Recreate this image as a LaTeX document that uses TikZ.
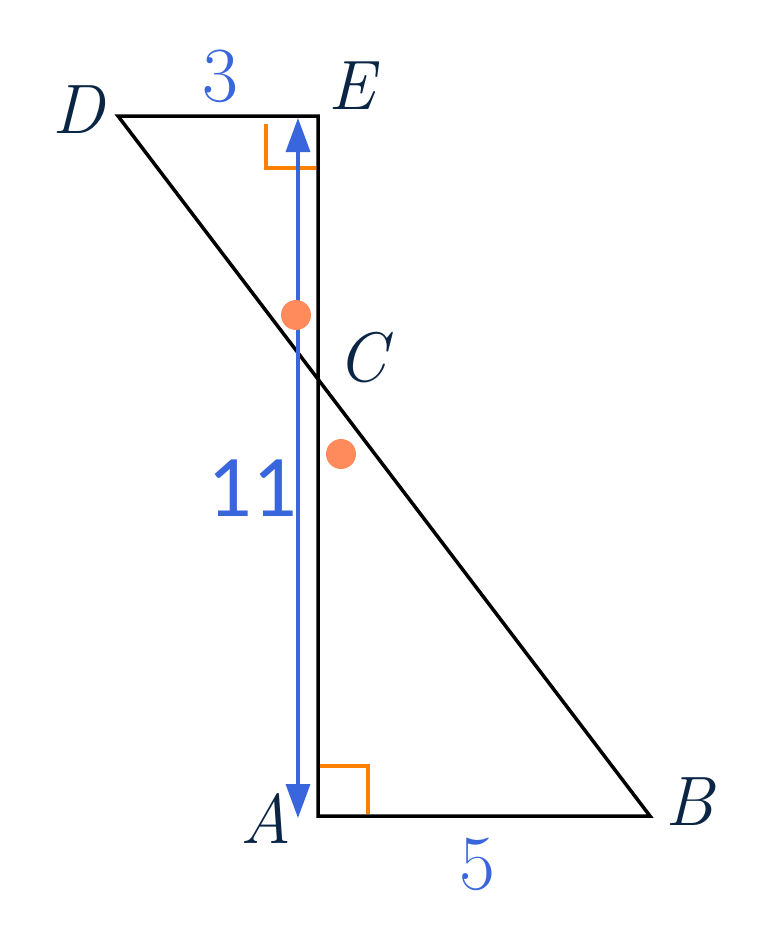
\documentclass[tikz,border=0pt]{standalone}
\usepackage{fontspec}
\newfontfamily\numfont{Carlito}
\usepackage{tikz}
\usetikzlibrary{arrows.meta,positioning}
\definecolor{navy}{HTML}{0B2545}
\definecolor{lenblue}{HTML}{3A66DD}
\definecolor{rightorange}{HTML}{FF7F00}
\definecolor{dotorange}{HTML}{FF8A5B}
\tikzset{font=\fontsize{78}{80}\selectfont}
\tikzset{vertex/.style={text=navy, inner sep=0pt, font=\fontsize{70}{72}\selectfont\itshape}}
\tikzset{lenlabel/.style={text=lenblue, inner sep=0pt}}
\tikzset{rightmark/.style={rightorange, line width=3.5pt}}

\begin{document}
\begin{tikzpicture}[x=1pt,y=-1pt]
  \useasboundingbox (0,0) rectangle (770,930);
  \coordinate (D) at (118,116);
  \coordinate (E) at (318,116);
  \coordinate (A) at (318,816);
  \coordinate (B) at (650,816);
  \coordinate (C) at (318,379);
  \coordinate (top) at (298,118);
  \coordinate (bot) at (298,818);

  % right angles
  \draw[rightmark] (266,124) -- (266,168) -- (316,168);
  \draw[rightmark] (320,766) -- (368,766) -- (368,814);

  % triangles
  \draw[line width=3.5pt, line join=miter] (D) -- (E) -- (A) -- (B) -- cycle;

  % length arrow
  \draw[lenblue, line width=3.5pt,
    {Triangle[length=34pt,width=24pt]}-{Triangle[length=34pt,width=24pt]}]
    (bot) -- (top);

  % equal angles
  \fill[dotorange] (296,315) circle (15);
  \fill[dotorange] (341,454) circle (15);

  \node[vertex] (labD) at (78,110) {D};
  \node[vertex] (labE) at (352,86) {E};
  \node[vertex] (labC) at (362,358) {C};
  \node[vertex] (labA) at (266,818) {A};
  \node[vertex] (labB) at (690,802) {B};
  \node[lenlabel] (len3) at (220,76) {3};
  \node[lenlabel, font=\numfont\fontsize{88}{90}\selectfont] (len11) at (252,488) {11};
  \node[lenlabel] (len5) at (477,864) {5};
\end{tikzpicture}
\end{document}
